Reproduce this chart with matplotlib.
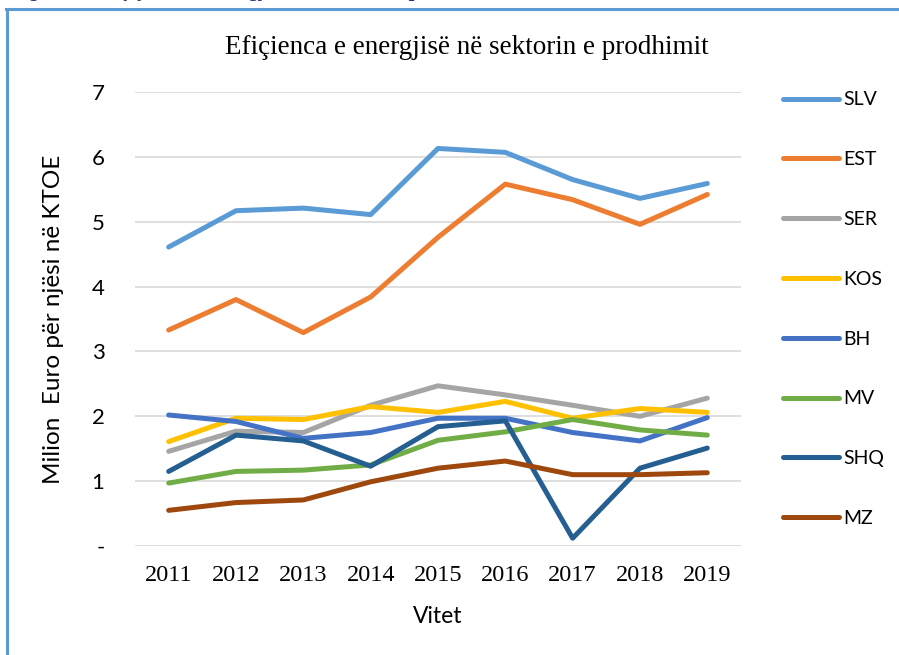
import matplotlib
matplotlib.use('Agg')
import matplotlib.pyplot as plt
from matplotlib.lines import Line2D

# Të dhënat (lexuar nga grafiku)
vitet = ['2011', '2012', '2013', '2014', '2015', '2016', '2017', '2018', '2019']
slv = [4.61, 5.17, 5.21, 5.11, 6.13, 6.07, 5.65, 5.36, 5.59]
est = [3.33, 3.80, 3.29, 3.84, 4.76, 5.58, 5.34, 4.96, 5.42]
ser = [1.46, 1.77, 1.75, 2.17, 2.47, 2.33, 2.17, 2.00, 2.28]
kos = [1.61, 1.97, 1.95, 2.15, 2.06, 2.23, 1.97, 2.12, 2.06]
bh = [2.02, 1.92, 1.66, 1.75, 1.97, 1.97, 1.75, 1.62, 1.98]
mv = [0.97, 1.15, 1.17, 1.25, 1.63, 1.76, 1.95, 1.79, 1.71]
shq = [1.15, 1.71, 1.62, 1.23, 1.84, 1.93, 0.12, 1.20, 1.51]
mz = [0.55, 0.67, 0.71, 0.99, 1.20, 1.31, 1.10, 1.10, 1.13]

seri = [('SLV', slv, '#5B9BD5'), ('EST', est, '#ED7D31'), ('SER', ser, '#A5A5A5'),
        ('KOS', kos, '#FFC000'), ('BH', bh, '#4472C4'), ('MV', mv, '#70AD47'),
        ('SHQ', shq, '#255E91'), ('MZ', mz, '#9E480E')]

sans = ['Lato', 'DejaVu Sans']
serif = ['Liberation Serif', 'DejaVu Serif']

fig = plt.figure(figsize=(8.99, 6.55), dpi=100)
ax = fig.add_axes([0.1502, 0.1664, 0.674, 0.6931])

x = list(range(len(vitet)))
for emri, vlera, ngjyra in seri:
    ax.plot(x, vlera, color=ngjyra, linewidth=3.6, solid_capstyle='round',
            solid_joinstyle='round', label=emri, zorder=3)

ax.set_xlim(-0.5, len(vitet) - 0.5)
ax.set_ylim(0, 7)
ax.set_yticks(range(0, 8))
ax.set_yticklabels(['-'] + [str(i) for i in range(1, 8)], family=sans, fontsize=16)
ax.set_xticks(x)
ax.set_xticklabels(vitet, family=serif, fontsize=17.5)
ax.tick_params(axis='y', length=0, pad=22)
ax.tick_params(axis='x', length=0, pad=14)
ax.grid(axis='y', color='#D9D9D9', linewidth=1.2, zorder=0)
for s in ax.spines.values():
    s.set_visible(False)

ax.set_xlabel('Vitet', family=sans, fontsize=16.5, labelpad=14)
ax.set_ylabel('Milion  Euro për njësi në KTOE', family=sans, fontsize=17.5, labelpad=20)

fig.text(0.519, 0.928, 'Efiçienca e energjisë në sektorin e prodhimit',
         family=serif, fontsize=19.5, ha='center', va='center')

# legjenda
handles = [Line2D([], [], color=c, linewidth=3.6, solid_capstyle='round') for _, _, c in seri]
fig.legend(handles, [s[0] for s in seri], loc='center left',
           bbox_to_anchor=(0.871, 0.528), frameon=False, borderpad=0,
           borderaxespad=0, handlelength=2.9, handletextpad=0.2,
           labelspacing=2.2, prop={'family': sans, 'size': 14})

# kuadri dhe titulli i prerë sipër
fig.add_artist(Line2D([0.007, 1.0], [0.986, 0.986], color='#5B9BD5', linewidth=2.2))
fig.add_artist(Line2D([0.008, 0.008], [0.0, 0.986], color='#5B9BD5', linewidth=2.2))
fig.text(0.012, 1.006, 'Figura 41: Efiçienca e energjisë në sektorin e prodhimit',
         family=serif, fontsize=15, style='italic', weight='bold', color='#1F3864',
         ha='left', va='baseline')

plt.savefig('out.png', dpi=100)
